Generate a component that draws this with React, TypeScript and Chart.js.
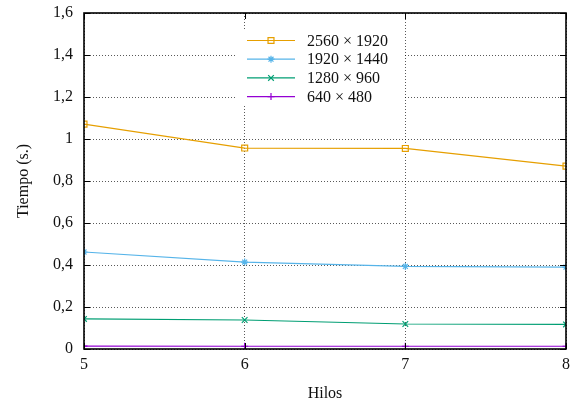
import { useEffect, useRef } from 'react';
import { Chart, registerables } from 'chart.js';

Chart.register(...registerables);

// Execution time (seconds) per number of threads, one series per image size
const threads = [5, 6, 7, 8];
const t2560 = [1.071, 0.957, 0.955, 0.871];
const t1920 = [0.462, 0.414, 0.393, 0.39];
const t1280 = [0.143, 0.138, 0.119, 0.117];
const t640 = [0.014, 0.013, 0.013, 0.013];
const seriesLabels = ['2560 × 1920', '1920 × 1440', '1280 × 960', '640 × 480'];
const seriesColors = ['#E69F00', '#56B4E9', '#009E73', '#9400D3'];
const seriesStyles = ['rect', 'star', 'crossRot', 'cross'];
const seriesRadius = [4.2, 3.5, 4, 3.5];
const yTickValues = [0, 0.2, 0.4, 0.6, 0.8, 1, 1.2, 1.4, 1.6];
const yTickLabels = ['0', '0,2', '0,4', '0,6', '0,8', '1', '1,2', '1,4', '1,6'];

const FONT = '"Liberation Serif", "DejaVu Serif", serif';
const TEXT = '#111';

function drawMarker(ctx: CanvasRenderingContext2D, style: string, x: number, y: number, r: number) {
  ctx.beginPath();
  if (style === 'rect') {
    const s = r * Math.SQRT1_2;
    ctx.rect(x - s, y - s, 2 * s, 2 * s);
  } else if (style === 'star' || style === 'cross') {
    ctx.moveTo(x - r, y);
    ctx.lineTo(x + r, y);
    ctx.moveTo(x, y - r);
    ctx.lineTo(x, y + r);
  }
  if (style === 'star' || style === 'crossRot') {
    const d = r * Math.SQRT1_2;
    ctx.moveTo(x - d, y - d);
    ctx.lineTo(x + d, y + d);
    ctx.moveTo(x - d, y + d);
    ctx.lineTo(x + d, y - d);
  }
  ctx.stroke();
}

// Legend area inside the plot, kept clear of grid lines
const legendBox = { left: 235, top: 30, right: 404, bottom: 106 };

const framePlugin = {
  id: 'frameAndLegend',
  beforeDatasetsDraw(chart: any) {
    const { ctx } = chart;
    ctx.save();
    ctx.fillStyle = '#fff';
    ctx.fillRect(legendBox.left, legendBox.top, legendBox.right - legendBox.left, legendBox.bottom - legendBox.top);
    ctx.restore();
  },
  afterDraw(chart: any) {
    const { ctx, chartArea: a, scales } = chart;
    ctx.save();
    // tick marks pointing inward on all four sides
    ctx.strokeStyle = '#000';
    ctx.lineWidth = 1;
    const tl = 6;
    ctx.beginPath();
    for (const v of yTickValues) {
      const y = Math.round(scales.y.getPixelForValue(v)) + 0.5;
      ctx.moveTo(a.left, y);
      ctx.lineTo(a.left + tl, y);
      ctx.moveTo(a.right, y);
      ctx.lineTo(a.right - tl, y);
    }
    for (const v of threads) {
      const x = Math.round(scales.x.getPixelForValue(v)) + 0.5;
      ctx.moveTo(x, a.bottom);
      ctx.lineTo(x, a.bottom - tl);
      ctx.moveTo(x, a.top);
      ctx.lineTo(x, a.top + tl);
    }
    ctx.stroke();
    // frame
    ctx.lineWidth = 1.6;
    ctx.strokeRect(a.left, a.top, a.right - a.left, a.bottom - a.top);

    // legend
    const x0 = 247;
    const x1 = 295;
    const tx = 307;
    const y0 = 40.5;
    const dy = 18.7;
    ctx.font = `16px ${FONT}`;
    ctx.textBaseline = 'middle';
    ctx.textAlign = 'left';
    seriesLabels.forEach((label, i) => {
      const y = y0 + i * dy;
      ctx.strokeStyle = seriesColors[i];
      ctx.lineWidth = 1.2;
      ctx.beginPath();
      ctx.moveTo(x0, y);
      ctx.lineTo(x1, y);
      ctx.stroke();
      drawMarker(ctx, seriesStyles[i], (x0 + x1) / 2, y, seriesRadius[i]);
      ctx.fillStyle = TEXT;
      ctx.fillText(label, tx, y + 1);
    });
    ctx.restore();
  },
};

export default function App() {
  const canvasRef = useRef<HTMLCanvasElement | null>(null);

  useEffect(() => {
    const canvas = canvasRef.current;
    if (!canvas) return;
    const series = [t2560, t1920, t1280, t640];
    const chart = new Chart(canvas, {
      type: 'line',
      data: {
        datasets: series.map((vals, i) => ({
          label: seriesLabels[i],
          data: threads.map((t, j) => ({ x: t, y: vals[j] })),
          borderColor: seriesColors[i],
          backgroundColor: 'transparent',
          borderWidth: 1.2,
          pointStyle: seriesStyles[i] as any,
          pointRadius: seriesRadius[i],
          pointBorderWidth: 1.2,
          pointBorderColor: seriesColors[i],
          pointBackgroundColor: 'transparent',
          tension: 0,
        })),
      },
      options: {
        responsive: false,
        animation: false,
        events: [],
        layout: { padding: { top: 13, right: 7, left: 0, bottom: 0 } },
        plugins: {
          legend: { display: false },
          tooltip: { enabled: false },
        },
        scales: {
          x: {
            type: 'linear',
            min: 5,
            max: 8,
            afterFit: (s: any) => {
              s.height = 58;
              s.paddingLeft = 0;
              s.paddingRight = 0;
            },
            afterBuildTicks: (s: any) => {
              s.ticks = threads.map((v) => ({ value: v }));
            },
            ticks: {
              padding: 6,
              color: TEXT,
              font: { family: FONT, size: 16 },
              callback: (v: any) => String(v),
            },
            grid: { color: 'rgba(0,0,0,0.65)', lineWidth: 1, drawTicks: false },
            border: { display: false, dash: [1, 2] },
            title: {
              display: true,
              text: 'Hilos',
              color: TEXT,
              font: { family: FONT, size: 16 },
              padding: { top: 0, bottom: 4 },
            },
          },
          y: {
            type: 'linear',
            min: 0,
            max: 1.6,
            afterFit: (s: any) => {
              s.width = 84;
              s.paddingTop = 0;
              s.paddingBottom = 0;
            },
            afterBuildTicks: (s: any) => {
              s.ticks = yTickValues.map((v) => ({ value: v }));
            },
            ticks: {
              padding: 11,
              color: TEXT,
              font: { family: FONT, size: 16 },
              callback: (_v: any, i: number) => yTickLabels[i],
            },
            grid: { color: 'rgba(0,0,0,0.65)', lineWidth: 1, drawTicks: false },
            border: { display: false, dash: [1, 2] },
            title: {
              display: true,
              text: 'Tiempo (s.)',
              color: TEXT,
              font: { family: FONT, size: 16 },
              padding: { top: 14, bottom: 0 },
            },
          },
        },
      },
      plugins: [framePlugin],
    });
    return () => chart.destroy();
  }, []);

  return (
    <div style={{ position: 'fixed', left: 0, top: 0, width: 573, height: 407, background: '#fff' }}>
      <canvas ref={canvasRef} width={573} height={407} style={{ display: 'block' }} />
    </div>
  );
}
